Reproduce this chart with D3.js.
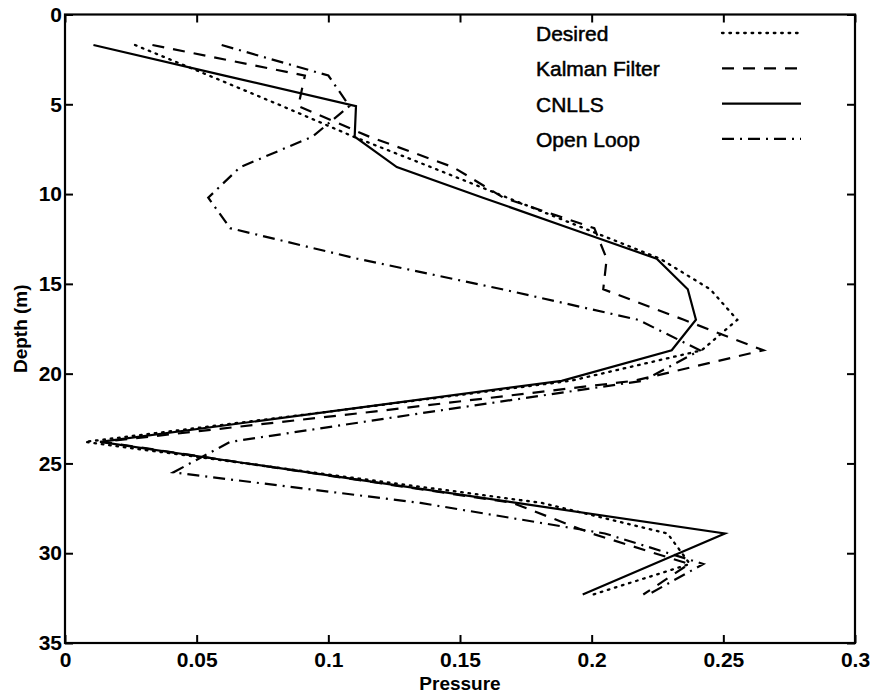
<!DOCTYPE html>
<html>
<head>
<meta charset="utf-8">
<script src="https://cdn.jsdelivr.net/npm/d3@7"></script>
<style>
  body { margin: 0; background: #fff; }
  svg { display: block; font-family: "Liberation Sans", Arial, Helvetica, sans-serif; }
  .tick text { font-weight: bold; font-size: 21px; fill: #000; }
</style>
</head>
<body>
<svg id="chart" width="870" height="693"></svg>
<script>
// depth samples (m) shared by every series
var depths = [1.7, 3.4, 5.1, 6.8, 8.5, 10.2, 11.9, 13.6, 15.3, 17.0, 18.7, 20.4, 22.1, 23.8, 25.5, 27.2, 28.9, 30.6, 32.3];
// pressure at each depth
var desired  = [0.0266, 0.0547, 0.0825, 0.1095, 0.139, 0.168, 0.197, 0.226, 0.245, 0.2553, 0.2418, 0.192, 0.101, 0.0076, 0.094, 0.181, 0.2288, 0.2373, 0.2006];
var kalman   = [0.0332, 0.0911, 0.0886, 0.1155, 0.1474, 0.1665, 0.2010, 0.2057, 0.2044, 0.235, 0.2652, 0.216, 0.118, 0.0145, 0.092, 0.170, 0.200, 0.237, 0.2196];
var cnlls    = [0.0108, 0.0606, 0.1105, 0.110, 0.126, 0.1587, 0.1917, 0.2247, 0.2365, 0.2396, 0.2304, 0.1886, 0.101, 0.0133, 0.0924, 0.1715, 0.2506, 0.2236, 0.1966];
var openLoop = [0.0595, 0.1000, 0.108, 0.094, 0.0665, 0.0544, 0.0627, 0.111, 0.166, 0.2176, 0.2411, 0.2195, 0.14, 0.0627, 0.0411, 0.135, 0.205, 0.2424, 0.2215];

var seriesNames = ["Desired", "Kalman Filter", "CNLLS", "Open Loop"];
var xTicks = [0, 0.05, 0.1, 0.15, 0.2, 0.25, 0.3];
var xTickLabels = ["0", "0.05", "0.1", "0.15", "0.2", "0.25", "0.3"];
var yTicks = [0, 5, 10, 15, 20, 25, 30, 35];
var yTickLabels = ["0", "5", "10", "15", "20", "25", "30", "35"];

function draw() {
  var svg = d3.select("#chart");
  var mLeft = 65, mRight = 855, mTop = 14.5, mBottom = 643;

  var x = d3.scaleLinear().domain([0, 0.3]).range([mLeft, mRight]);
  var y = d3.scaleLinear().domain([0, 35]).range([mTop, mBottom]);

  // axes, ticks pointing inward
  var tick = 8;
  svg.append("g").attr("transform", "translate(0," + mBottom + ")")
    .call(d3.axisBottom(x).tickValues(xTicks).tickFormat(function (d, i) { return xTickLabels[i]; })
      .tickSizeInner(-tick).tickSizeOuter(0).tickPadding(9));
  svg.append("g").attr("transform", "translate(0," + mTop + ")")
    .call(d3.axisTop(x).tickValues(xTicks).tickFormat("").tickSizeInner(-tick).tickSizeOuter(0));
  svg.append("g").attr("transform", "translate(" + mLeft + ",0)")
    .call(d3.axisLeft(y).tickValues(yTicks).tickFormat(function (d, i) { return yTickLabels[i]; })
      .tickSizeInner(-tick).tickSizeOuter(0).tickPadding(3));
  svg.append("g").attr("transform", "translate(" + mRight + ",0)")
    .call(d3.axisRight(y).tickValues(yTicks).tickFormat("").tickSizeInner(-tick).tickSizeOuter(0));

  svg.selectAll(".domain").remove();
  svg.selectAll(".tick line").attr("stroke", "#000").attr("stroke-width", 2);

  svg.append("rect")
    .attr("x", mLeft).attr("y", mTop)
    .attr("width", mRight - mLeft).attr("height", mBottom - mTop)
    .attr("fill", "none").attr("stroke", "#000").attr("stroke-width", 2.2);

  // axis titles
  svg.append("text")
    .attr("x", (mLeft + mRight) / 2).attr("y", 690)
    .attr("text-anchor", "middle")
    .style("font-weight", "bold").style("font-size", "19px")
    .text("Pressure");
  svg.append("text")
    .attr("transform", "translate(27," + ((mTop + mBottom) / 2) + ") rotate(-90)")
    .attr("text-anchor", "middle")
    .style("font-weight", "bold").style("font-size", "19px")
    .text("Depth (m)");

  var dashes = ["1.6,5.8", "12,9", null, "12,6,2,6"];
  var allSeries = [desired, kalman, cnlls, openLoop];

  var line = d3.line()
    .x(function (d) { return x(d[0]); })
    .y(function (d) { return y(d[1]); });

  allSeries.forEach(function (vals, i) {
    var pts = vals.map(function (v, j) { return [v, depths[j]]; });
    svg.append("path")
      .datum(pts)
      .attr("d", line)
      .attr("fill", "none")
      .attr("stroke", "#000")
      .attr("stroke-width", i == 0 ? 2.3 : 2.2)
      .attr("stroke-linecap", i == 0 ? "round" : "butt")
      .attr("stroke-dasharray", dashes[i]);
  });

  // legend
  var legend = svg.append("g");
  seriesNames.forEach(function (name, i) {
    var yy = 33 + i * 35.3;
    legend.append("text")
      .attr("x", 536).attr("y", yy + 8)
      .style("font-size", "21px")
      .style("stroke", "#000").style("stroke-width", 0.5)
      .text(name);
    legend.append("line")
      .attr("x1", 722).attr("x2", 801)
      .attr("y1", yy).attr("y2", yy)
      .attr("stroke", "#000")
      .attr("stroke-width", i == 0 ? 2.3 : 2.2)
      .attr("stroke-linecap", i == 0 ? "round" : "butt")
      .attr("stroke-dasharray", dashes[i]);
  });
}

draw();
</script>
</body>
</html>
